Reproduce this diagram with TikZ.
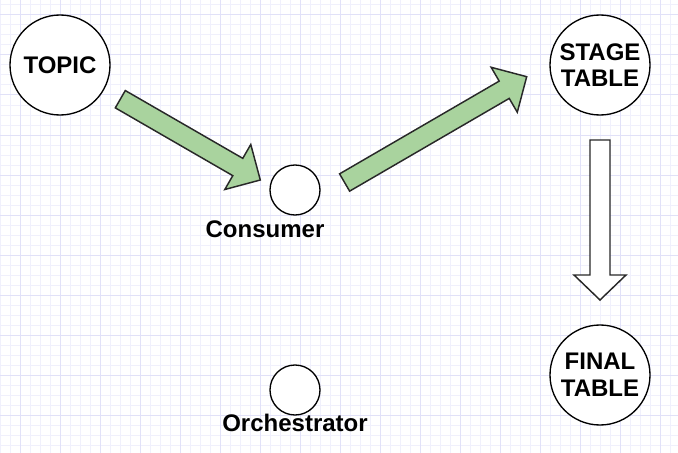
\documentclass[tikz,border=0pt]{standalone}
\usepackage{fontspec}
\setmainfont{Liberation Sans}
\usetikzlibrary{calc}
\definecolor{gridminor}{RGB}{240,240,252}
\definecolor{gridmajor}{RGB}{225,225,248}
\definecolor{arrowgreen}{RGB}{169,211,158}
\definecolor{strokegray}{RGB}{40,40,40}
\newcommand{\blkarrow}[6]{%
  \coordinate (hb) at ($(#3)!#5!(#2)$);
  \draw[#1] ($(#2)!#4!-90:(#3)$) -- ($(hb)!#4!90:(#2)$) -- ($(hb)!#6!90:(#2)$)
    -- (#3) -- ($(hb)!#6!-90:(#2)$) -- ($(hb)!#4!-90:(#2)$) -- ($(#2)!#4!90:(#3)$) -- cycle;}
\tikzset{
  bignode/.style={circle, draw=black, line width=1pt, fill=white, minimum size=75pt, inner sep=0pt,
    align=center, font=\fontsize{18}{20}\selectfont\bfseries},
  smallnode/.style={circle, draw=black, line width=1pt, fill=white, minimum size=37.5pt, inner sep=0pt},
  lbl/.style={font=\fontsize{18}{20}\selectfont\bfseries, inner sep=0pt},
  greenarrow/.style={fill=arrowgreen, draw=strokegray, line width=1.1pt, line join=miter},
  whitearrow/.style={fill=white, draw=strokegray, line width=1.1pt, line join=miter}
}
\begin{document}
\begin{tikzpicture}[x=0.75pt, y=-0.75pt]
\useasboundingbox (0,0) rectangle (678,453);
\fill[white] (0,0) rectangle (678,453);
% grid
\foreach \x in {0,10,...,670} \draw[gridminor, line width=0.75pt] (\x,0) -- (\x,453);
\foreach \y in {5,15,...,445} \draw[gridminor, line width=0.75pt] (0,\y) -- (678,\y);
\foreach \x in {20,60,...,660} \draw[gridmajor, line width=0.75pt] (\x,0) -- (\x,453);
\foreach \y in {15,55,...,455} \draw[gridmajor, line width=0.75pt] (0,\y) -- (678,\y);
% nodes
\node[bignode] (topic) at (60,65) {TOPIC};
\node[bignode] (stage) at (600,65) {STAGE\\TABLE};
\node[bignode] (final) at (600,375) {FINAL\\TABLE};
\node[smallnode] (consumer) at (295,190) {};
\node[smallnode] (orch) at (295,390) {};
\node[lbl] (consumerlbl) at (265,229) {Consumer};
\node[lbl] (orchlbl) at (295,423) {Orchestrator};
% arrows
\coordinate (a1s) at (120.3,99.2);
\coordinate (a1e) at (260.3,180);
\coordinate (a2s) at (344.6,182.5);
\coordinate (a2e) at (526.7,76.7);
\coordinate (a3s) at (600,140);
\coordinate (a3e) at (600,300);
\blkarrow{greenarrow}{a1s}{a1e}{7.5pt}{19.5pt}{19.5pt}
\blkarrow{greenarrow}{a2s}{a2e}{7.5pt}{19.5pt}{19.5pt}
\blkarrow{whitearrow}{a3s}{a3e}{7.5pt}{18.75pt}{19.5pt}
\end{tikzpicture}
\end{document}
